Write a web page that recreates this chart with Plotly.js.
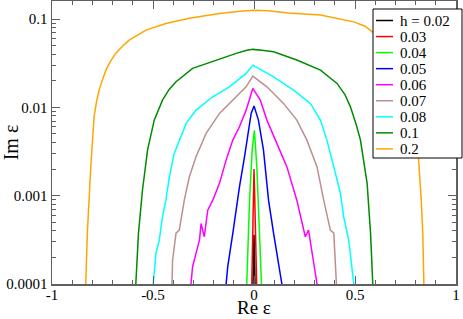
<!DOCTYPE html>
<html>
<head>
<meta charset="utf-8">
<script src="https://cdn.plot.ly/plotly-3.0.1.min.js"></script>
<style>html,body{margin:0;padding:0;background:#fff;}#chart{width:463px;height:319px;}</style>
</head>
<body>
<div id="chart"></div>
<script>
// Series labels and colours
const labels = ["h = 0.02", "0.03", "0.04", "0.05", "0.06", "0.07", "0.08", "0.1", "0.2"];
const colors = ["#000000", "#ff0000", "#00ff00", "#0000ff", "#ff00ff", "#bc8f8f", "#00ffff", "#008b00", "#ffa500"];

// h = 0.02
const x_h002 = [-0.005, -0.002, 0.0, 0.002, 0.005];
const y_h002 = [1e-4, 2.4e-4, 3.6e-4, 2.4e-4, 1e-4];
// h = 0.03
const x_h003 = [-0.011, -0.006, -0.002, 0.0, 0.003, 0.008, 0.013];
const y_h003 = [1e-4, 4e-4, 1.2e-3, 2.0e-3, 1.1e-3, 4e-4, 1e-4];
// h = 0.04
const x_h004 = [-0.036, -0.022, -0.009, 0.002, 0.014, 0.027, 0.037];
const y_h004 = [1e-4, 8.9e-4, 3.28e-3, 5.5e-3, 2.12e-3, 3.77e-4, 1e-4];
// h = 0.05
const x_h005 = [-0.138, -0.130, -0.105, -0.088, -0.072, -0.047, -0.031, -0.014, 0.0, 0.022, 0.047, 0.072, 0.097, 0.122, 0.138];
const y_h005 = [1e-4, 1.57e-4, 3.74e-4, 7.48e-4, 1.26e-3, 2.76e-3, 5.08e-3, 8.55e-3, 1.04e-2, 7.18e-3, 3.28e-3, 8.9e-4, 3.74e-4, 1.72e-4, 1e-4];
// h = 0.06
const x_h006 = [-0.312, -0.304, -0.287, -0.270, -0.262, -0.246, -0.229, -0.204, -0.171, -0.138, -0.105, -0.072, -0.039, -0.006, 0.031, 0.064, 0.113, 0.163, 0.212, 0.246, 0.254, 0.270, 0.287, 0.312];
const y_h006 = [1e-4, 1.57e-4, 2.22e-4, 3.14e-4, 4.85e-4, 3.43e-4, 6.87e-4, 8.9e-4, 1.38e-3, 2.53e-3, 4.26e-3, 6.03e-3, 9.31e-3, 1.64e-2, 1.21e-2, 7.18e-3, 3.91e-3, 2.12e-3, 8.9e-4, 4.07e-4, 3.43e-4, 4.07e-4, 2.22e-4, 1e-4];
// h = 0.07
const x_h007 = [-0.406, -0.403, -0.386, -0.370, -0.345, -0.320, -0.287, -0.237, -0.171, -0.105, -0.039, -0.006, 0.064, 0.146, 0.212, 0.262, 0.312, 0.345, 0.378, 0.395, 0.408];
const y_h007 = [1e-4, 1.87e-4, 3.77e-4, 4.07e-4, 8.9e-4, 1.64e-3, 2.76e-3, 5.08e-3, 8.55e-3, 1.21e-2, 1.71e-2, 2.26e-2, 1.71e-2, 1.11e-2, 7.18e-3, 4.26e-3, 2.12e-3, 8.9e-4, 4.07e-4, 3.77e-4, 1e-4];
// h = 0.08
const x_h008 = [-0.499, -0.485, -0.469, -0.453, -0.436, -0.419, -0.395, -0.370, -0.336, -0.287, -0.204, -0.122, -0.039, -0.006, 0.097, 0.196, 0.279, 0.329, 0.361, 0.395, 0.428, 0.444, 0.469, 0.494];
const y_h008 = [1e-4, 2.24e-4, 3.14e-4, 5.77e-4, 8.9e-4, 1.64e-3, 3.01e-3, 4.26e-3, 6.59e-3, 9.31e-3, 1.32e-2, 1.71e-2, 2.43e-2, 3.01e-2, 2.22e-2, 1.57e-2, 1.11e-2, 7.18e-3, 4.26e-3, 2.12e-3, 1.06e-3, 5.77e-4, 3.14e-4, 1e-4];
// h = 0.1
const x_h01 = [-0.585, -0.572, -0.552, -0.527, -0.494, -0.453, -0.420, -0.386, -0.304, -0.188, -0.088, -0.040, -0.006, 0.040, 0.097, 0.212, 0.329, 0.411, 0.450, 0.477, 0.505, 0.527, 0.560, 0.577, 0.588];
const y_h01 = [1e-4, 3.77e-4, 1.16e-3, 3.28e-3, 7.18e-3, 1.21e-2, 1.60e-2, 1.95e-2, 2.77e-2, 3.44e-2, 4.09e-2, 4.40e-2, 4.54e-2, 4.45e-2, 4.27e-2, 3.44e-2, 2.64e-2, 1.87e-2, 1.40e-2, 1.02e-2, 6.5e-3, 4.27e-3, 1.38e-3, 3.77e-4, 1e-4];
// h = 0.2
const x_h02 = [-0.833, -0.825, -0.808, -0.792, -0.780, -0.767, -0.750, -0.733, -0.710, -0.684, -0.650, -0.618, -0.535, -0.436, -0.320, -0.171, -0.070, 0.0, 0.070, 0.171, 0.329, 0.494, 0.550, 0.620, 0.690, 0.740, 0.775, 0.800, 0.815, 0.828, 0.836, 0.841];
const y_h02 = [1e-4, 3.77e-4, 2.11e-3, 7.76e-3, 1.15e-2, 1.57e-2, 2.05e-2, 2.64e-2, 3.35e-2, 4.12e-2, 4.95e-2, 5.78e-2, 7.5e-2, 8.93e-2, 1.02e-1, 1.16e-1, 1.23e-1, 1.26e-1, 1.24e-1, 1.17e-1, 1.11e-1, 9.3e-2, 8.3e-2, 6.2e-2, 4.3e-2, 2.7e-2, 1.55e-2, 7.5e-3, 2.5e-3, 8.9e-4, 3.5e-4, 1e-4];

const xs = [x_h002, x_h003, x_h004, x_h005, x_h006, x_h007, x_h008, x_h01, x_h02];
const ys = [y_h002, y_h003, y_h004, y_h005, y_h006, y_h007, y_h008, y_h01, y_h02];

// Axis ticks
const xTickVals = [-1, -0.5, 0, 0.5, 1];
const xTickText = ["-1", "-0.5", "0", "0.5", "1"];
const yTickVals = [1e-4, 1e-3, 1e-2, 1e-1];
const yTickText = ["0.0001", "0.001", "0.01", "0.1"];
const yMinor = [];
for (let e = -4; e <= -1; e++) {
  for (let m = 2; m <= 9; m++) yMinor.push(m * Math.pow(10, e));
}

const traces = labels.map((name, i) => ({
  x: xs[i], y: ys[i], name: name, type: 'scatter', mode: 'lines',
  line: {color: colors[i], width: 1.5}, showlegend: false
}));

const axisColor = '#606060';
const fontFam = 'Liberation Serif, Times New Roman, serif';

// Legend box built in paper coordinates (plot area: 52..456 px wide, 1..284 px tall)
const W = 463, H = 319, ML = 52, MR = 7, MT = 1, MB = 35;
const pw = W - ML - MR, ph = H - MT - MB;
const px2x = p => (p - ML) / pw;
const py2y = p => (H - MB - p) / ph;
const shapes = [{
  type: 'rect', xref: 'paper', yref: 'paper',
  x0: px2x(373), x1: px2x(462), y0: py2y(158), y1: py2y(9),
  line: {color: '#000', width: 1}, fillcolor: '#fff', layer: 'above'
}];
const annotations = [];
labels.forEach((name, i) => {
  const cy = 20.5 + 16.05 * i;
  shapes.push({type: 'line', xref: 'paper', yref: 'paper',
    x0: px2x(376), x1: px2x(393), y0: py2y(cy), y1: py2y(cy),
    line: {color: colors[i], width: 1.5}, layer: 'above'});
  annotations.push({xref: 'paper', yref: 'paper', x: px2x(399), y: py2y(cy),
    xanchor: 'left', yanchor: 'middle', text: name, showarrow: false, borderpad: 0,
    font: {family: fontFam, size: 15, color: '#000'}});
});
// x-axis title
annotations.push({xref: 'paper', yref: 'paper', x: 0.5, y: py2y(319),
  xanchor: 'center', yanchor: 'bottom', text: 'Re ε', showarrow: false, borderpad: 0,
  font: {family: fontFam, size: 19, color: '#000'}});

const layout = {
  width: W, height: H,
  margin: {l: ML, r: MR, t: MT, b: MB, pad: 0},
  paper_bgcolor: '#fff', plot_bgcolor: '#fff',
  font: {family: fontFam, color: '#000', size: 15},
  showlegend: false,
  shapes: shapes, annotations: annotations,
  xaxis: {
    range: [-1, 1], tickvals: xTickVals, ticktext: xTickText,
    ticks: 'inside', ticklen: 8, tickwidth: 1, tickcolor: axisColor,
    showline: true, linecolor: axisColor, linewidth: 1.5, mirror: 'allticks',
    showgrid: false, zeroline: false, ticklabelstandoff: -4,
    minor: {dtick: 0.1, ticks: 'inside', ticklen: 4, tickcolor: axisColor, showgrid: false},
    tickfont: {family: fontFam, size: 15, color: '#000'}
  },
  yaxis: {
    type: 'log', range: [-4, -0.795], tickvals: yTickVals, ticktext: yTickText,
    ticks: 'inside', ticklen: 8, tickwidth: 1, tickcolor: axisColor,
    showline: true, linecolor: axisColor, linewidth: 1.5, mirror: 'allticks',
    showgrid: false, zeroline: false,
    minor: {tickvals: yMinor, ticks: 'inside', ticklen: 4, tickcolor: axisColor, showgrid: false},
    tickfont: {family: fontFam, size: 15, color: '#000'},
    title: {text: 'Im ε', font: {family: fontFam, size: 20, color: '#000'}}
  }
};

Plotly.newPlot('chart', traces, layout, {displayModeBar: false, staticPlot: true});
</script>
</body>
</html>
